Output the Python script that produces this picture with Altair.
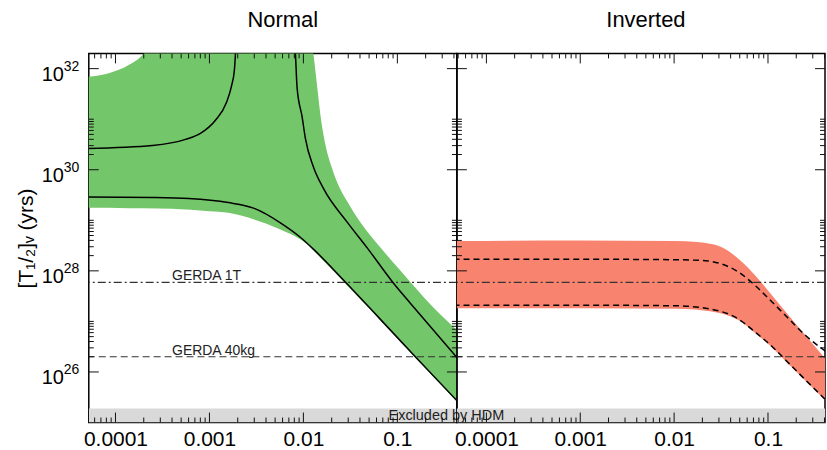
import numpy as np
import pandas as pd
import altair as alt

FONT = "Liberation Sans, Arial, Helvetica, sans-serif"
GREEN = "#74c66a"
RED = "#f8846f"
HDM_GRAY = "#d9d9d9"
INK = "#111111"

# ---------------- axis ranges / labels ----------------
x_dom_normal = [5.2e-5, 0.43]
x_dom_inverted = [4.85e-5, 0.405]
y_dom = [1.0e25, 2.0e32]
x_label_values = [0.0001, 0.001, 0.01, 0.1]
y_label_exponents = [26, 28, 30, 32]

# ---------------- reference lines ----------------
gerda_1t = 5.9e27
gerda_40kg = 2.0e26
hdm_top = 1.9e25

# ---------------- Normal hierarchy (log10 values) -------
n_band_lx = [-4.30, -4.07, -3.86, -3.70, -3.40, -3.00, -2.80, -2.53, -2.245, -2.03,
             -1.894, -1.854, -1.82, -1.766, -1.69, -1.64, -1.53, -1.39, -1.18, -0.98,
             -0.81, -0.68, -0.35]
n_band_lo = [29.25, 29.25, 29.24, 29.24, 29.23, 29.18, 29.15, 29.02, 28.82, 28.62,
             28.41, 28.33, 28.26, 28.16, 28.01, 27.92, 27.70, 27.43, 27.02, 26.63,
             26.28, 26.03, 25.38]
n_band_hi = [31.84, 31.91, 32.07, 32.30, 33.50, 33.50, 33.50, 33.50, 33.50, 33.50,
             32.30, 31.65, 31.10, 30.50, 30.00, 29.75, 29.36, 28.95, 28.46, 28.03,
             27.67, 27.40, 26.80]

n_low_lx = [-4.30, -3.60, -3.22, -2.80, -2.53, -2.245, -2.03, -1.894, -1.574, -1.20, -0.809, -0.35]
n_low_lt = [29.46, 29.45, 29.43, 29.35, 29.24, 28.95, 28.66, 28.43, 27.82, 27.08, 26.30, 25.40]

n_up1_lx = [-4.30, -3.606, -3.255, -3.096, -2.936, -2.819, -2.766, -2.734, -2.723, -2.715]
n_up1_lt = [30.42, 30.48, 30.60, 30.72, 30.98, 31.33, 31.65, 31.98, 32.30, 32.60]

n_up2_lx = [-2.095, -2.085, -2.067, -2.014, -1.979, -1.894, -1.787, -1.532, -1.319, -1.043, -0.862, -0.35]
n_up2_lt = [32.60, 32.30, 31.62, 31.05, 30.62, 30.06, 29.63, 28.96, 28.45, 27.76, 27.36, 26.25]

# ---------------- Inverted hierarchy ----------------
i_band_lx = [-4.35, -3.00, -2.00, -1.75, -1.663, -1.486, -1.309, -1.131, -0.954, -0.777, -0.599, -0.38]
i_band_hi = [28.59, 28.60, 28.59, 28.57, 28.55, 28.46, 28.23, 27.90, 27.51, 27.11, 26.72, 26.24]
i_band_lo = [27.26, 27.26, 27.25, 27.23, 27.21, 27.15, 27.02, 26.76, 26.48, 26.15, 25.82, 25.42]

i_dlo_lx = [-4.35, -3.00, -2.00, -1.663, -1.309, -1.131, -0.954, -0.777, -0.599, -0.38]
i_dlo_lt = [27.32, 27.32, 27.31, 27.26, 27.04, 26.78, 26.50, 26.17, 25.84, 25.44]

i_dhi_lx = [-4.35, -3.00, -2.00, -1.663, -1.486, -1.309, -1.131, -0.954, -0.777, -0.599, -0.38]
i_dhi_lt = [28.23, 28.23, 28.22, 28.20, 28.13, 27.97, 27.70, 27.38, 27.05, 26.72, 26.40]

# annotation anchors
gerda_text_x = 4.0e-4
hdm_text_x = 0.0805

W, H = 369, 370
MAJ, MIN = 10, 5


def p10(a):
    return [10.0 ** v for v in a]


def x_ticks(dom):
    major, minor = [], []
    for e in range(-7, 2):
        v = 10.0 ** e
        if dom[0] <= v <= dom[1]:
            major.append(v)
        for k in range(2, 10):
            v = k * 10.0 ** e
            if dom[0] <= v <= dom[1]:
                minor.append(v)
    return major, minor


def y_ticks():
    major, minor = [], []
    for e in [24, 26, 28, 30, 32]:
        v = 10.0 ** e
        if y_dom[0] <= v <= y_dom[1]:
            major.append(v)
        for k in range(2, 11):
            v = k * 10.0 ** e
            if y_dom[0] <= v <= y_dom[1]:
                minor.append(v)
    return major, minor


def panel(name, xdom, band, lines, dash, color, hdm_x, yaxis, title_dx, show_ylabels):
    xs = alt.Scale(type="log", domain=xdom)
    ys = alt.Scale(type="log", domain=y_dom)

    xaxis = alt.Axis(values=x_label_values, format="~g", labelFontSize=21, labelFont=FONT,
                     labelColor="black", ticks=False, tickSize=0, domain=False, grid=False,
                     title=None, labelPadding=6, labelOverlap=False, labelFlush=False)

    def X(f):
        return alt.X(f, scale=xs, axis=xaxis)

    def Y(f):
        return alt.Y(f, scale=ys, axis=yaxis)

    hdm = alt.Chart(pd.DataFrame({"x0": [xdom[0]], "x1": [xdom[1]],
                                  "y0": [y_dom[0]], "y1": [hdm_top]})).mark_rect(
        color=HDM_GRAY, clip=True).encode(
        x=X("x0:Q"), x2="x1:Q", y=Y("y0:Q"), y2="y1:Q")

    bdf = pd.DataFrame({"m": p10(band[0]), "lo": p10(band[1]), "hi": p10(band[2])})
    area = alt.Chart(bdf).mark_area(color=color, opacity=1, clip=True,
                                    interpolate="monotone").encode(
        x=X("m:Q"), y=Y("lo:Q"), y2="hi:Q")

    g1 = alt.Chart(pd.DataFrame({"v": [gerda_1t]})).mark_rule(
        color="#333333", strokeWidth=1.2, strokeDash=[8, 3, 2, 3]).encode(y=Y("v:Q"))
    g2 = alt.Chart(pd.DataFrame({"v": [gerda_40kg]})).mark_rule(
        color="#333333", strokeWidth=1.2, strokeDash=[7, 4]).encode(y=Y("v:Q"))

    rows = []
    for sid, (lx, lt) in enumerate(lines):
        for a, b in zip(lx, lt):
            rows.append({"seg": sid, "m": 10.0 ** a, "t": 10.0 ** b})
    ldf = pd.DataFrame(rows)
    lmark = dict(color="black", strokeWidth=1.5, clip=True, interpolate="monotone")
    if dash:
        lmark["strokeDash"] = [6, 4]
    curves = alt.Chart(ldf).mark_line(**lmark).encode(
        x=X("m:Q"), y=Y("t:Q"), detail="seg:N", order="m:Q")

    hdm_txt = alt.Chart(pd.DataFrame({"x": [hdm_x], "y": [y_dom[0]],
                                      "s": ["Excluded by HDM"]})).mark_text(
        align="left", baseline="alphabetic", dy=-3, fontSize=14.5, font=FONT,
        color="#222222", clip=True).encode(x=X("x:Q"), y=Y("y:Q"), text="s:N")

    layers = [hdm, area, g1, g2, curves, hdm_txt]

    if show_ylabels:
        gt = alt.Chart(pd.DataFrame({"x": [gerda_text_x, gerda_text_x],
                                     "y": [gerda_1t, gerda_40kg],
                                     "s": ["GERDA 1T", "GERDA 40kg"]})).mark_text(
            align="left", baseline="alphabetic", dy=-2, fontSize=14, font=FONT,
            color="#222222").encode(x=X("x:Q"), y=Y("y:Q"), text="s:N")
        layers.append(gt)
        ldf2 = pd.DataFrame({"v": [10.0 ** e for e in y_label_exponents],
                             "base": ["10"] * len(y_label_exponents),
                             "exp": [str(e) for e in y_label_exponents]})
        tens = alt.Chart(ldf2).mark_text(align="right", baseline="alphabetic", dy=12,
                                         fontSize=20, font=FONT, color="black").encode(
            x=alt.value(-25), y=Y("v:Q"), text="base:N")
        exps = alt.Chart(ldf2).mark_text(align="left", baseline="alphabetic", dy=2,
                                         fontSize=14, font=FONT, color="black").encode(
            x=alt.value(-25), y=Y("v:Q"), text="exp:N")
        layers += [tens, exps]

    # inward tick marks on all four sides
    xmaj, xmin = x_ticks(xdom)
    ymaj, ymin = y_ticks()
    for vals, L in [(xmaj, MAJ), (xmin, MIN)]:
        base = alt.Chart(pd.DataFrame({"v": vals})).mark_rule(color=INK, strokeWidth=1, clip=True)
        layers.append(base.encode(x=X("v:Q"), y=alt.value(0), y2=alt.value(L)))
        layers.append(base.encode(x=X("v:Q"), y=alt.value(H), y2=alt.value(H - L)))
    for vals, L in [(ymaj, MAJ), (ymin, MIN)]:
        base = alt.Chart(pd.DataFrame({"v": vals})).mark_rule(color=INK, strokeWidth=1, clip=True)
        layers.append(base.encode(y=Y("v:Q"), x=alt.value(0), x2=alt.value(L)))
        layers.append(base.encode(y=Y("v:Q"), x=alt.value(W), x2=alt.value(W - L)))

    return alt.layer(*layers).properties(
        width=W, height=H,
        title=alt.TitleParams(name, fontSize=22, font=FONT, fontWeight="normal",
                              anchor="middle", dx=title_dx, offset=4,
                              baseline="alphabetic", frame="group", color="black"))


yaxis_normal = alt.Axis(title="[T₁/₂]ᵥ (yrs)", labels=False, ticks=False, domain=False,
                        grid=False, titleFontSize=21, titleFont=FONT, titleFontWeight="normal",
                        titleAngle=270, titleX=-56, titleY=H / 2, titleAlign="center",
                        titleBaseline="alphabetic", titleColor="black")

normal = panel("Normal", x_dom_normal,
               (n_band_lx, n_band_lo, n_band_hi),
               [(n_low_lx, n_low_lt), (n_up1_lx, n_up1_lt), (n_up2_lx, n_up2_lt)],
               False, GREEN, hdm_text_x, yaxis_normal, 10, True)

# place the inverted copy of the HDM label so it continues the same line of text
ln0, ln1 = np.log10(x_dom_normal)
li0, li1 = np.log10(x_dom_inverted)
frac = (np.log10(hdm_text_x) - ln0) / (ln1 - ln0) - 1.0
hdm_x_inv = 10.0 ** (li0 + frac * (li1 - li0))

inverted = panel("Inverted", x_dom_inverted,
                 (i_band_lx, i_band_lo, i_band_hi),
                 [(i_dlo_lx, i_dlo_lt), (i_dhi_lx, i_dhi_lt)],
                 True, RED, hdm_x_inv, None, 5, False)

chart = alt.hconcat(normal, inverted, spacing=0, bounds="flush").configure_view(
    stroke="black", strokeWidth=1.5).properties(
    padding={"left": 15, "top": 8, "right": 0, "bottom": 0}, background="white")

chart.save("out.html", embed_options={"renderer": "svg", "actions": False})
